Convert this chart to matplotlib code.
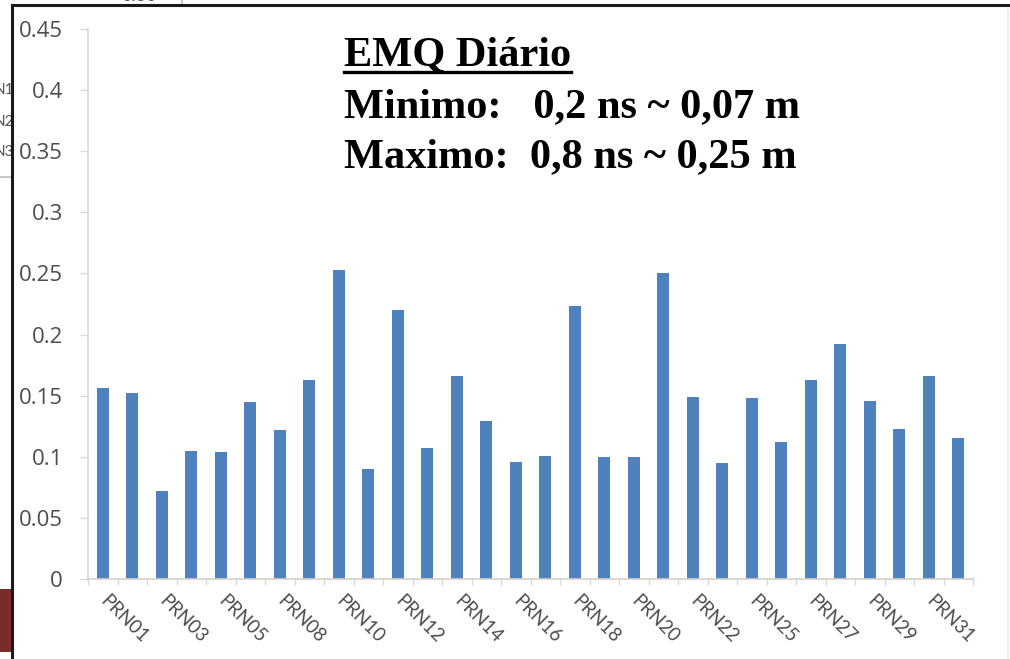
import matplotlib
matplotlib.use("Agg")
import matplotlib.pyplot as plt
from matplotlib.patches import Rectangle
from matplotlib.lines import Line2D
import numpy as np

# Daily RMS per GPS satellite (metres)
satellites = ['PRN01', 'PRN02', 'PRN03', 'PRN04', 'PRN05', 'PRN06', 'PRN08', 'PRN09',
              'PRN10', 'PRN11', 'PRN12', 'PRN13', 'PRN14', 'PRN15', 'PRN16', 'PRN17',
              'PRN18', 'PRN19', 'PRN20', 'PRN21', 'PRN22', 'PRN23', 'PRN25', 'PRN26',
              'PRN27', 'PRN28', 'PRN29', 'PRN30', 'PRN31', 'PRN32']
rms_m = [0.156, 0.152, 0.072, 0.105, 0.104, 0.145, 0.122, 0.163,
         0.253, 0.090, 0.220, 0.107, 0.166, 0.129, 0.096, 0.101,
         0.223, 0.100, 0.100, 0.250, 0.149, 0.095, 0.148, 0.112,
         0.163, 0.192, 0.146, 0.123, 0.166, 0.115]
y_ticks = [0, 0.05, 0.1, 0.15, 0.2, 0.25, 0.3, 0.35, 0.4, 0.45]
y_tick_labels = ['0', '0.05', '0.1', '0.15', '0.2', '0.25', '0.3', '0.35', '0.4', '0.45']

title_line = 'EMQ Diário'
min_line = 'Minimo:   0,2 ns ~ 0,07 m'
max_line = 'Maximo:  0,8 ns ~ 0,25 m'

W, H = 1010, 659
fig = plt.figure(figsize=(W / 100, H / 100), dpi=100)
fig.patch.set_facecolor('white')

def fx(px):
    return px / W

def fy(py):
    return 1 - py / H

# neighbouring slide content peeking in at the left edge
for lbl, yy in [('N1', 90), ('N2', 122), ('N3', 152)]:
    fig.text(fx(14), fy(yy), lbl, ha='right', va='center', fontsize=11,
             color='#555555', family='Lato', zorder=-5)
fig.add_artist(Line2D([0, fx(14)], [fy(177), fy(177)], color='#bbbbbb', lw=1.2, zorder=-5))
fig.text(fx(122), fy(4), '0.30', ha='left', va='bottom', fontsize=13,
         color='#555555', family='Lato', zorder=-5)
fig.add_artist(Line2D([fx(182), fx(182)], [fy(0), fy(5)], color='#bbbbbb', lw=1.2, zorder=-5))
fig.add_artist(Rectangle((0, fy(652)), fx(11), fy(589) - fy(652),
                         facecolor='#7b2c28', edgecolor='none', zorder=-5))

# white panel with dark border on top and left
fig.add_artist(Rectangle((fx(12), 0), 1.0, fy(5), facecolor='white',
                         edgecolor='none', zorder=-4))
fig.add_artist(Line2D([fx(12), 1], [fy(5), fy(5)], color='#1a1a1a', lw=2.2, zorder=-3))
fig.add_artist(Line2D([fx(12), fx(12)], [fy(5), 0], color='#1a1a1a', lw=2.2, zorder=-3))
fig.add_artist(Line2D([fx(1008), fx(1008)], [fy(10), 0], color='#eeeeee', lw=1.5, zorder=-3))

ax = fig.add_axes([fx(88), fy(579), fx(973) - fx(88), fy(29) - fy(579)])
ax.set_facecolor('none')

x = np.arange(len(satellites))
ax.bar(x, rms_m, width=0.39, color='#4f81bd', zorder=2)

ax.set_xlim(-0.5, len(satellites) - 0.5)
ax.set_ylim(0, 0.45)

axis_grey = '#d9d9d9'
for side in ['top', 'right']:
    ax.spines[side].set_visible(False)
ax.spines['left'].set_color(axis_grey)
ax.spines['bottom'].set_color('#d6cfc7')
ax.spines['left'].set_linewidth(1.2)
ax.spines['bottom'].set_linewidth(1.2)

ax.set_yticks(y_ticks)
ax.set_yticklabels(y_tick_labels)
ax.tick_params(axis='y', length=6, width=1, color=axis_grey, pad=12,
               labelsize=16, labelcolor='#4d4d4d')

# category boundaries carry the tick marks, centres carry the labels
ax.set_xticks(np.arange(-0.5, len(satellites), 1.0))
ax.set_xticklabels([])
ax.tick_params(axis='x', which='major', length=4, width=1, color=axis_grey)
ax.set_xticks(x, minor=True)
ax.set_xticklabels([s if i % 2 == 0 else '' for i, s in enumerate(satellites)], minor=True)
ax.tick_params(axis='x', which='minor', length=0, pad=14, labelsize=13.5, labelcolor='#4d4d4d')
for lab in ax.get_xticklabels(minor=True):
    lab.set_rotation(-45)
    lab.set_rotation_mode('anchor')
    lab.set_ha('left')
    lab.set_va('center')
    lab.set_family('Lato')

for lab in ax.get_yticklabels():
    lab.set_family('Open Sans')

# annotation block
serif = dict(family='Liberation Serif', fontweight='bold', fontsize=30.5, color='black')
t_title = fig.text(fx(344), fy(66), title_line, ha='left', va='baseline', **serif)
fig.text(fx(344), fy(117), min_line, ha='left', va='baseline', **serif)
fig.text(fx(344), fy(167), max_line, ha='left', va='baseline', **serif)

fig.canvas.draw()
bb = t_title.get_window_extent()
fig.add_artist(Line2D([bb.x0 / W, bb.x1 / W], [fy(71.5), fy(71.5)], color='black', lw=2.4))

fig.savefig('out.png', dpi=100)
